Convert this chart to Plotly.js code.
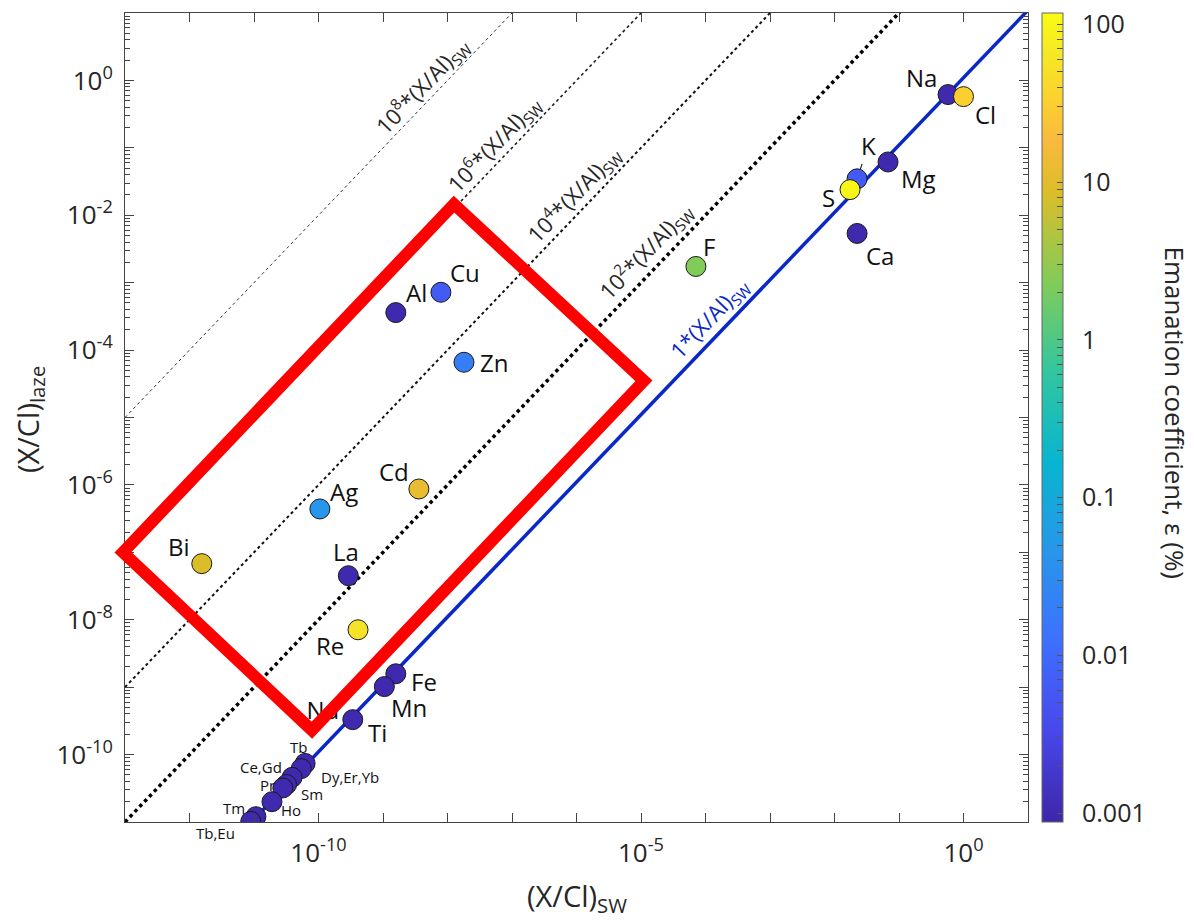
<!DOCTYPE html>
<html><head><meta charset="utf-8">
<script src="https://cdn.plot.ly/plotly-3.0.1.min.js"></script>
<style>html,body{margin:0;padding:0;background:#fff}#chart{width:1194px;height:922px}</style>
</head><body><div id="chart"></div>
<script>
// ---------------- data ----------------
const elements = ['Na','Cl','K','S','Mg','Ca','F','Cu','Al','Zn','Ag','Cd','Bi','La','Re','Fe','Mn','Ti',
                  'Tb','Ce,Gd','Dy,Er,Yb','Pr','Sm','Ho','Tm','Tb,Eu'];
const xSW   = [0.575, 1.0, 0.0224, 0.0174, 0.0676, 0.0224, 7.1e-5, 7.9e-9, 1.58e-9, 1.8e-8, 1.05e-10, 3.6e-9, 1.55e-12,
               2.9e-10, 4.1e-10, 1.58e-9, 1.05e-9, 3.4e-10,
               6.2e-11, 5.4e-11, 3.9e-11, 3.2e-11, 2.8e-11, 1.9e-11, 1.07e-11, 8.9e-12];
const yLaze = [0.617, 0.575, 0.0347, 0.024, 0.0617, 0.00537, 1.74e-3, 7.2e-4, 3.6e-4, 6.6e-5, 4.4e-7, 8.7e-7, 6.8e-8,
               4.5e-8, 7.1e-9, 1.58e-9, 1.02e-9, 3.3e-10,
               7.4e-11, 6.2e-11, 4.6e-11, 3.6e-11, 3.2e-11, 2.0e-11, 1.2e-11, 1.02e-11];
const emanation = [0.001, 32, 0.006, 100, 0.001, 0.001, 2.3, 0.006, 0.001, 0.02, 0.045, 12, 8.5,
                   0.001, 57, 0.001, 0.001, 0.001,
                   0.001, 0.001, 0.001, 0.001, 0.001, 0.001, 0.001, 0.001];
const hiddenLabel = {text: 'Nd', x: 1.17e-10, y: 4.2e-10};

const lineFactors = [1e8, 1e6, 1e4, 1e2, 1.1];
const lineNames = ['10<sup>8</sup>*(X/Al)<sub>SW</sub>', '10<sup>6</sup>*(X/Al)<sub>SW</sub>',
                   '10<sup>4</sup>*(X/Al)<sub>SW</sub>', '10<sup>2</sup>*(X/Al)<sub>SW</sub>', '1*(X/Al)<sub>SW</sub>'];
const lineLabelX = [4.1e-9, 5.3e-8, 9.3e-7, 1.2e-5, 1.18e-4];
const lineLabelY = [0.80, 0.113, 0.0203, 2.9e-3, 2.85e-4];

// red box corners (data coordinates)
const boxX = [9.3e-14, 1.26e-8, 1.11e-5, 7.9e-11];
const boxY = [1.0e-7, 1.46e-2, 3.5e-5, 2.3e-10];

const xTickVals = [1e-13,1e-12,1e-11,1e-10,1e-9,1e-8,1e-7,1e-6,1e-5,1e-4,1e-3,1e-2,1e-1,1,10];
const xTickText = ['','','','10<sup>-10</sup>','','','','','10<sup>-5</sup>','','','','','10<sup>0</sup>',''];
const yTickVals = [1e-11,1e-10,1e-9,1e-8,1e-7,1e-6,1e-5,1e-4,1e-3,1e-2,1e-1,1,10];
const yTickText = ['','10<sup>-10</sup>','','10<sup>-8</sup>','','10<sup>-6</sup>','','10<sup>-4</sup>','','10<sup>-2</sup>','','10<sup>0</sup>',''];
const cbMajor = [0.001, 0.01, 0.1, 1, 10, 100];
const cbMajorText = ['0.001', '0.01', '0.1', '1', '10', '100'];

// ---------------- style ----------------
const labelOffsets = {
  'Na':[-27,-17], 'Cl':[22,18], 'K':[11,-33], 'S':[-22,8], 'Mg':[30,17], 'Ca':[23,22], 'F':[13,-20],
  'Cu':[24,-20], 'Al':[21,-20], 'Zn':[30,0], 'Ag':[24,-17], 'Cd':[-25,-17], 'Bi':[-23,-17], 'La':[-2,-24],
  'Re':[-28,16], 'Fe':[28,8], 'Mn':[25,21], 'Ti':[25,13],
  'Tb':[-7,-16], 'Ce,Gd':[-40,-2], 'Dy,Er,Yb':[58,0], 'Pr':[-19,0], 'Sm':[29,6], 'Ho':[19,8], 'Tm':[-22,-9], 'Tb,Eu':[-35,12]
};
const smallLabels = ['Tb','Ce,Gd','Dy,Er,Yb','Pr','Sm','Ho','Tm','Tb,Eu'];
const lineWidths = [1, 1.6, 2, 3.5, 3.5];
const lineDash = ['dot','dot','dot','dot','solid'];
const lineColors = ['#333','#222','#111','#000','#0a28c8'];

const parula = [
 [0,'rgb(62,38,168)'],[0.111,'rgb(72,71,235)'],[0.222,'rgb(62,111,255)'],[0.333,'rgb(39,150,235)'],
 [0.444,'rgb(8,181,208)'],[0.556,'rgb(49,198,159)'],[0.667,'rgb(129,204,89)'],[0.778,'rgb(220,189,41)'],
 [0.841,'rgb(248,186,61)'],[0.889,'rgb(252,207,48)'],[0.952,'rgb(245,233,36)'],[1,'rgb(249,251,21)']
];

const XR = [-13, 1], YR = [-11, 1];
const FONT = 'Open Sans, sans-serif';
const TXT = '#262626';
const GAP = '\u00a0\u00a0';

const logE = emanation.map(v => Math.log10(v));
const cbVals = [], cbText = [];
cbMajor.forEach((m, i) => {
  for (let k = 1; k <= 9; k++) {
    const v = Math.log10(m * k);
    if (v > 2.07) break;
    cbVals.push(v); cbText.push(k === 1 ? GAP + cbMajorText[i] : '');
  }
});
const yMinor = [];
yTickVals.forEach(d => { for (let k = 2; k <= 9; k++) if (d * k < 10) yMinor.push(d * k); });

const traces = [];
lineFactors.forEach((f, i) => {
  traces.push({x: [1e-13, 10], y: [1e-13 * f, 10 * f], mode: 'lines', type: 'scatter',
    line: {color: lineColors[i], width: lineWidths[i], dash: lineDash[i]}, hoverinfo: 'skip', showlegend: false});
});
traces.push({x: xSW, y: yLaze, mode: 'markers', type: 'scatter', showlegend: false,
  marker: {size: 20, color: logE, colorscale: parula, cmin: -3.056, cmax: 2.071,
    line: {color: '#1a1a1a', width: 1},
    colorbar: {x: 1.0155, xanchor: 'left', xpad: 0, y: 0.5, yanchor: 'middle', ypad: 0, len: 1, lenmode: 'fraction',
      thickness: 21, thicknessmode: 'pixels', outlinewidth: 1, outlinecolor: '#666',
      tickmode: 'array', tickvals: cbVals, ticktext: cbText, ticks: 'inside', ticklen: 6, tickcolor: '#555',
      tickfont: {family: FONT, size: 25, color: TXT}}
  }});
traces.push({x: [hiddenLabel.x], y: [hiddenLabel.y], mode: 'text', text: [hiddenLabel.text], type: 'scatter',
  textfont: {family: FONT, size: 24, color: '#111'}, showlegend: false, hoverinfo: 'skip'});

const annotations = [];
elements.forEach((el, i) => {
  const off = labelOffsets[el];
  const small = smallLabels.includes(el);
  const a = {x: Math.log10(xSW[i]), y: Math.log10(yLaze[i]), xref: 'x', yref: 'y', text: el,
    font: {family: FONT, size: small ? 15 : 24, color: '#111'}, showarrow: false,
    xanchor: 'center', yanchor: 'middle', xshift: off[0], yshift: -off[1]};
  if (el === 'K') {
    Object.assign(a, {showarrow: true, arrowhead: 0, arrowwidth: 1.2, arrowcolor: '#222', ax: off[0], ay: off[1],
      standoff: 10, xshift: 0, yshift: 0});
  }
  annotations.push(a);
});
lineNames.forEach((t, i) => {
  annotations.push({x: Math.log10(lineLabelX[i]), y: Math.log10(lineLabelY[i]), xref: 'x', yref: 'y', text: t,
    xanchor: 'center', yanchor: 'middle',
    textangle: -46.3, showarrow: false, font: {family: FONT, size: 22, color: i === 4 ? '#0a28c8' : TXT}});
});
annotations.push({xref: 'paper', yref: 'paper', x: 0.5006, y: -0.093, xanchor: 'center', yanchor: 'middle',
  text: '(X/Cl)<sub>SW</sub>', showarrow: false, font: {family: FONT, size: 29, color: TXT}});
annotations.push({xref: 'paper', yref: 'paper', x: -0.105, y: 0.497, xanchor: 'center', yanchor: 'middle',
  text: '(X/Cl)<sub>laze</sub>', showarrow: false, textangle: -90, font: {family: FONT, size: 29, color: TXT}});
annotations.push({xref: 'paper', yref: 'paper', x: 1.163, y: 0.506, xanchor: 'center', yanchor: 'middle',
  text: 'Emanation coefficient, ε (%)', showarrow: false, textangle: 90, font: {family: FONT, size: 26, color: TXT}});

const toPX = v => (Math.log10(v) - XR[0]) / (XR[1] - XR[0]);
const toPY = v => (Math.log10(v) - YR[0]) / (YR[1] - YR[0]);
const path = boxX.map((x, i) => (i ? 'L' : 'M') + toPX(x).toFixed(5) + ',' + toPY(boxY[i]).toFixed(5)).join(' ') + ' Z';

const axisCommon = {type: 'log', showgrid: false, zeroline: false, showline: true, linecolor: '#444', linewidth: 1,
  mirror: 'ticks', ticks: 'inside', ticklen: 9, tickcolor: '#444', tickmode: 'array',
  tickfont: {family: FONT, size: 26, color: TXT}};

const layout = {
  width: 1194, height: 922, margin: {l: 125, r: 166, t: 13, b: 100},
  paper_bgcolor: '#fff', plot_bgcolor: '#fff', showlegend: false,
  xaxis: Object.assign({}, axisCommon, {range: XR, tickvals: xTickVals, ticktext: xTickText, ticklabelstandoff: 8}),
  yaxis: Object.assign({}, axisCommon, {range: YR, tickvals: yTickVals, ticktext: yTickText, ticklabelstandoff: 6,
    minor: {tickvals: yMinor, ticks: 'inside', ticklen: 5, tickcolor: '#444'}}),
  shapes: [{type: 'path', xref: 'paper', yref: 'paper', path: path, line: {color: '#ff0000', width: 12}, layer: 'above'}],
  annotations: annotations
};
Plotly.newPlot('chart', traces, layout, {displayModeBar: false, staticPlot: true});
</script></body></html>
